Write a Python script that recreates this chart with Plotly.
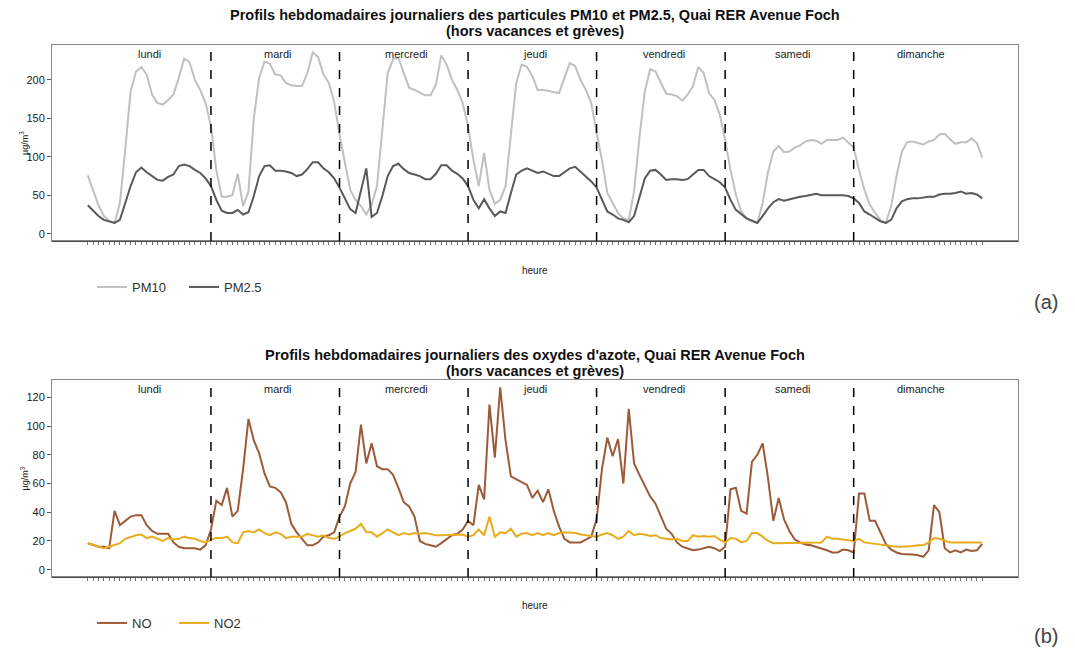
import plotly.graph_objects as go

days = ["lundi", "mardi", "mercredi", "jeudi", "vendredi", "samedi", "dimanche"]
hours = list(range(1, 169))

pm10 = [76, 55, 37, 23, 17, 14, 40, 110, 185, 211, 217, 207, 181, 170, 168, 174, 181, 203, 228, 223, 200, 187, 170, 140,
        83, 48, 48, 50, 78, 36, 55, 150, 203, 224, 221, 207, 206, 196, 193, 192, 192, 209, 236, 230, 207, 196, 172, 129,
        92, 57, 44, 36, 25, 38, 62, 140, 209, 227, 229, 209, 190, 187, 183, 180, 180, 194, 232, 220, 200, 187, 170, 140,
        96, 62, 105, 57, 39, 44, 62, 125, 196, 220, 217, 205, 187, 187, 186, 184, 183, 203, 222, 218, 200, 187, 170, 131,
        96, 53, 40, 27, 20, 18, 55, 125, 185, 214, 211, 196, 182, 181, 179, 173, 181, 192, 217, 209, 183, 174, 155, 122,
        83, 51, 29, 20, 16, 14, 40, 80, 107, 114, 106, 107, 112, 115, 120, 122, 121, 117, 122, 122, 122, 125, 118, 112,
        83, 57, 38, 27, 18, 14, 36, 75, 107, 119, 120, 118, 116, 120, 122, 129, 130, 123, 117, 119, 119, 124, 118, 99]

pm25 = [37, 30, 23, 18, 16, 14, 18, 40, 62, 80, 86, 80, 75, 70, 69, 74, 77, 88, 90, 88, 83, 79, 72, 62,
        44, 30, 27, 27, 31, 25, 28, 49, 75, 88, 89, 82, 82, 81, 79, 75, 77, 84, 93, 93, 85, 80, 72, 60,
        46, 32, 27, 57, 85, 22, 27, 49, 75, 88, 91, 84, 79, 77, 75, 71, 71, 78, 89, 89, 82, 78, 72, 62,
        44, 33, 45, 33, 23, 29, 27, 53, 77, 82, 85, 82, 79, 81, 78, 75, 75, 80, 85, 87, 81, 75, 68, 60,
        44, 29, 25, 20, 18, 15, 23, 49, 72, 82, 83, 77, 70, 71, 71, 70, 71, 77, 83, 83, 75, 71, 67, 60,
        44, 31, 25, 20, 17, 14, 23, 33, 41, 45, 43, 45, 46, 48, 49, 51, 52, 50, 50, 50, 50, 50, 49, 46,
        40, 29, 25, 20, 16, 14, 18, 33, 42, 45, 46, 46, 47, 48, 48, 51, 52, 52, 53, 55, 52, 53, 51, 46]

no = [18.5, 17, 16, 16, 15, 41, 31, 34, 37, 38, 38, 31, 27, 25, 25, 25, 19, 16, 15, 15, 15, 14, 17, 28,
      48, 45, 57, 37, 41, 70, 105, 90, 81, 67, 58, 57, 54, 47, 32, 26, 21.5, 17, 17, 19, 23, 24, 26, 37,
      44, 60, 68, 101, 74, 88, 72, 70, 70, 66, 57, 47, 44, 37, 20, 18, 17, 16, 18.5, 21.5, 24, 25, 28, 34,
      31, 59, 49, 115, 78, 127, 90, 65, 63, 61, 59, 50, 55, 47, 56, 41, 30, 21.5, 19, 19, 19, 21, 23, 35,
      70, 92, 79, 91, 60, 112, 74, 66, 58, 51, 46, 37, 28.5, 25, 19, 16, 15, 13.5, 14, 15, 16, 15, 13, 16,
      56, 57, 41, 39, 75, 80, 88, 64, 34, 50, 35, 27, 21, 19, 17.5, 17, 16, 15, 13.5, 12, 12, 14, 13.5, 12,
      53, 53, 34, 34, 25.5, 18, 14, 12, 11, 11, 10.5, 10, 9, 13.5, 45, 40, 15, 12, 13.5, 12, 14, 13, 13.5, 18]

no2 = [18, 17.5, 16, 15, 16, 17, 18.5, 21.5, 23, 24, 24.5, 22, 23, 21.5, 20, 22, 21, 21.5, 23, 22, 21.5, 20, 19, 21,
       22, 22, 23, 19, 18.5, 26, 27, 26, 28, 25.5, 24, 26, 25, 22, 23, 23, 23, 25, 24, 23, 24, 22, 21.5, 23,
       25.5, 27, 28.5, 32, 26, 26, 23, 25.5, 28, 26, 24, 25.5, 24.5, 25.5, 25, 25.5, 24.5, 24, 24, 24, 24, 24, 24.5, 23,
       24, 28, 24, 37, 23, 26, 25.5, 28.5, 23, 25, 25.5, 24, 25.5, 24, 25.5, 24, 25.5, 26, 26, 25.5, 24.5, 24, 23, 23,
       24.5, 25.5, 24, 21.5, 23, 27, 24, 25, 24.5, 23.5, 24, 22, 21.5, 21, 21.5, 20, 20, 24, 23, 23.5, 23, 23.5, 21, 19,
       22, 21.5, 19, 20, 25.5, 25.5, 23, 20, 18.5, 18.5, 18.5, 19, 19, 18.5, 19, 19, 19, 19, 23, 21.5, 21.5, 21, 20, 20,
       21.5, 19, 18.5, 18, 17.5, 17, 16, 16, 16, 16, 16.5, 17, 17, 19, 22, 21.5, 20, 19, 19, 19, 19, 19, 18.5, 19]

ticks_top = [0, 50, 100, 150, 200]
ticks_bot = [0, 20, 40, 60, 80, 100, 120]

FONT = "Liberation Sans"
W, H = 1075, 654
XL, XR = 52, 1018
TOP_Y0, TOP_Y1 = 45, 241
BOT_Y0, BOT_Y1 = 380, 577

fig = go.Figure()
fig.add_trace(go.Scatter(x=hours, y=pm10, mode="lines", name="PM10",
                         line=dict(color="#c0c0c0", width=2), xaxis="x", yaxis="y", legend="legend"))
fig.add_trace(go.Scatter(x=hours, y=pm25, mode="lines", name="PM2.5",
                         line=dict(color="#595959", width=2), xaxis="x", yaxis="y", legend="legend"))
fig.add_trace(go.Scatter(x=hours, y=no, mode="lines", name="NO",
                         line=dict(color="#9c5a37", width=2), xaxis="x2", yaxis="y2", legend="legend2"))
fig.add_trace(go.Scatter(x=hours, y=no2, mode="lines", name="NO2",
                         line=dict(color="#e8ac1c", width=2), xaxis="x2", yaxis="y2", legend="legend2"))

xdom = [XL / W, XR / W]
xr = [1 - 0.04 * 167, 168 + 0.04 * 167]
common_x = dict(range=xr, domain=xdom, tickvals=hours, showticklabels=False, ticks="outside",
                ticklen=3, tickcolor="#777", tickwidth=1, showgrid=False, zeroline=False,
                showline=True, linecolor="#888", linewidth=1, mirror=True)
common_y = dict(ticks="outside", ticklen=4, tickcolor="#555", showgrid=False, zeroline=False,
                showline=True, linecolor="#888", linewidth=1, mirror=True,
                tickfont=dict(family=FONT, size=11, color="#222"))

ytop = max(pm10 + pm25)
ybot = max(no + no2)
fig.update_layout(
    width=W, height=H, margin=dict(l=0, r=0, t=0, b=0),
    paper_bgcolor="white", plot_bgcolor="white",
    font=dict(family=FONT, color="#222"),
    xaxis=dict(**common_x, anchor="y"),
    yaxis=dict(**common_y, anchor="x", domain=[1 - TOP_Y1 / H, 1 - TOP_Y0 / H],
               range=[-0.04 * ytop, ytop * 1.04], tickvals=ticks_top),
    xaxis2=dict(**common_x, anchor="y2"),
    yaxis2=dict(**common_y, anchor="x2", domain=[1 - BOT_Y1 / H, 1 - BOT_Y0 / H],
                range=[-0.04 * ybot, ybot * 1.04], tickvals=ticks_bot),
    legend=dict(orientation="h", x=92 / W, y=1 - 287 / H, xanchor="left", yanchor="middle",
                font=dict(family=FONT, size=13, color="#333"), entrywidth=47, entrywidthmode="pixels",
                bgcolor="rgba(0,0,0,0)"),
    legend2=dict(orientation="h", x=92 / W, y=1 - 623 / H, xanchor="left", yanchor="middle",
                 font=dict(family=FONT, size=13, color="#333"), entrywidth=37, entrywidthmode="pixels",
                 bgcolor="rgba(0,0,0,0)"),
    showlegend=True,
)

shapes = []
for xa, ya in (("x", "y"), ("x2", "y2")):
    for k in range(1, 7):
        shapes.append(dict(type="line", xref=xa, yref=ya + " domain", x0=24 * k, x1=24 * k, y0=0, y1=1,
                           line=dict(color="black", width=1.5, dash="dash")))
    shapes.append(dict(type="line", xref=xa + " domain", yref=ya + " domain", x0=0, x1=1, y0=0, y1=0,
                       line=dict(color="#111", width=1.2)))
fig.update_layout(shapes=shapes)

ann = []
for xa, ya in (("x", "y"), ("x2", "y2")):
    for k, d in enumerate(days):
        ann.append(dict(text=d, x=12.5 + 24 * k, xref=xa, y=0.955, yref=ya + " domain", showarrow=False,
                        font=dict(family=FONT, size=11, color="#222"), xanchor="center", yanchor="middle"))

cx = (XL + XR) / 2 / W
titles = [
    ("<b>Profils hebdomadaires journaliers des particules PM10 et PM2.5, Quai RER Avenue Foch</b>", 15),
    ("<b>(hors vacances et grèves)</b>", 31),
    ("<b>Profils hebdomadaires journaliers des oxydes d'azote, Quai RER Avenue Foch</b>", 355),
    ("<b>(hors vacances et grèves)</b>", 371),
]
for t, yy in titles:
    ann.append(dict(text=t, x=cx, xref="paper", y=1 - yy / H, yref="paper", showarrow=False,
                    font=dict(family=FONT, size=14.5, color="#111"), xanchor="center", yanchor="middle"))
for yy in (270, 605):
    ann.append(dict(text="heure", x=cx, xref="paper", y=1 - yy / H, yref="paper", showarrow=False,
                    font=dict(family=FONT, size=10, color="#222"), xanchor="center", yanchor="middle"))
for yc in ((TOP_Y0 + TOP_Y1) / 2, (BOT_Y0 + BOT_Y1) / 2):
    ann.append(dict(text="µg/m<sup>3</sup>", x=24 / W, xref="paper", y=1 - yc / H, yref="paper",
                    showarrow=False, textangle=-90, font=dict(family=FONT, size=9, color="#222"),
                    xanchor="center", yanchor="middle"))
for t, yy in (("(a)", 302), ("(b)", 636)):
    ann.append(dict(text=t, x=1046 / W, xref="paper", y=1 - yy / H, yref="paper", showarrow=False,
                    font=dict(family=FONT, size=20, color="#444"), xanchor="center", yanchor="middle"))
fig.update_layout(annotations=ann)

fig.write_html("out.html")
